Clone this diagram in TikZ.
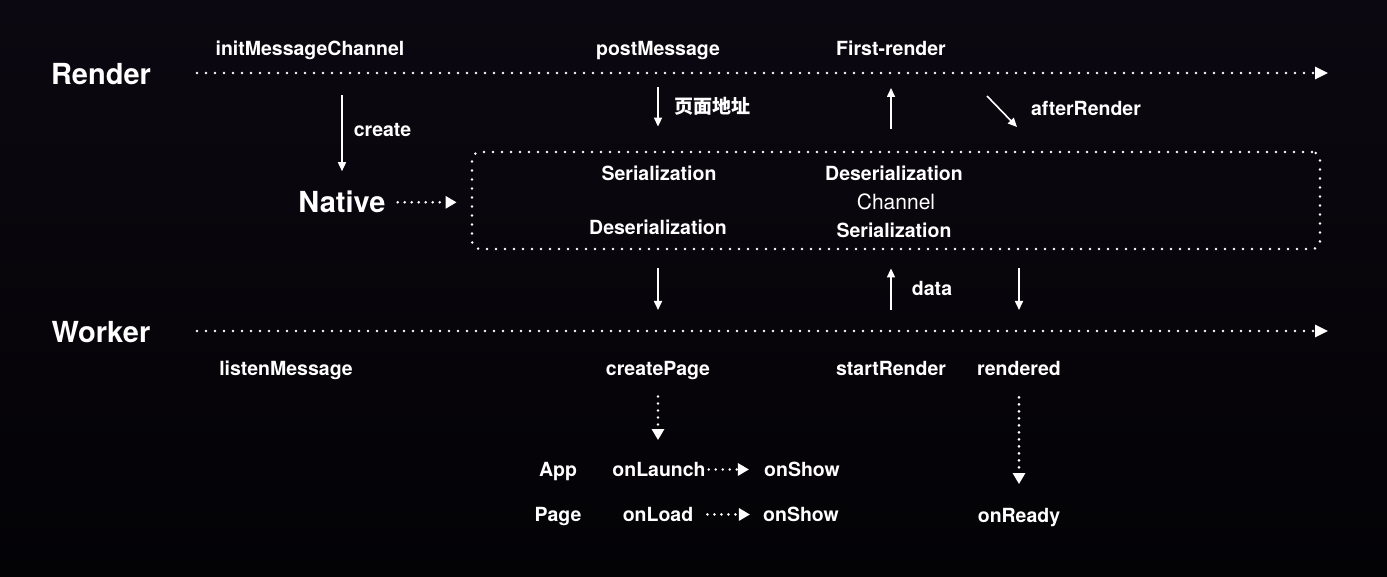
\documentclass[tikz,border=0pt]{standalone}
\usepackage{fontspec}
\setmainfont{TeX Gyre Heros}
\newfontfamily\cjk{Noto Sans CJK SC}
\usepackage{tikz}
\usetikzlibrary{calc,positioning,arrows.meta}
\definecolor{bgtop}{RGB}{12,8,17}
\definecolor{bgbot}{RGB}{3,2,5}

\begin{document}
\begin{tikzpicture}[x=1pt, y=-1pt,
	lane/.style={text=white, font=\fontsize{29}{34}\selectfont\bfseries, inner sep=0pt, anchor=base},
	lbl/.style={text=white, font=\fontsize{19.5}{23}\selectfont\bfseries, inner sep=0pt, anchor=base},
	dotpath/.style={draw=white, line width=2.8pt, line cap=round, dash pattern=on 0pt off 9pt},
	mainarrow/.style={dotpath, -{Triangle[length=13pt,width=12pt]}},
	dotarrow/.style={dotpath, dash pattern=on 0pt off 7pt, -{Triangle[length=11pt,width=12pt]}},
	flow/.style={draw=white, line width=1.6pt, -{Triangle[length=9pt,width=8pt]}}]

\fill[top color=bgtop, bottom color=bgbot] (0,0) rectangle (1387,577);
\useasboundingbox (0,0) rectangle (1387,577);

% lanes
\node[lane] (render) at (101,85)  {Render};
\node[lane] (worker) at (101,342) {Worker};
\node[lane] (native) at (342,213) {Native};

\coordinate (rstart) at (197,73);
\coordinate (rend)   at (1328,73);
\coordinate (wstart) at (197,331);
\coordinate (wend)   at (1328,331);
\draw[mainarrow] (rstart) -- (rend);
\draw[mainarrow] (wstart) -- (wend);

% render side
\node[lbl] (initmsg)     at (310,56) {initMessageChannel};
\node[lbl] (postmsg)     at (658,56) {postMessage};
\node[lbl] (firstrender) at (891,56) {First-render};

% channel box
\node[dotpath, rounded corners=8pt, minimum width=848pt, minimum height=97pt, inner sep=0pt] (chan) at (896,200.5) {};
\node[lbl] (serl) at (659,181) {Serialization};
\node[lbl] (desl) at (658,235) {Deserialization};
\node[lbl] (desr) at (894,181) {Deserialization};
\node[lbl, font=\fontsize{21}{25}\selectfont] (channel) at (896,210) {Channel};
\node[lbl] (serr) at (894,238) {Serialization};

% worker side
\node[lbl] (listenmsg)   at (286,375) {listenMessage};
\node[lbl] (createpage)  at (658,375) {createPage};
\node[lbl] (startrender) at (891,375) {startRender};
\node[lbl] (rendered)    at (1019,375) {rendered};

\node[lbl] (app)      at (558,476.5) {App};
\node[lbl] (onlaunch) at (659,476.5) {onLaunch};
\node[lbl] (appshow)  at (802,476.5) {onShow};
\node[lbl] (page)     at (558,521.5) {Page};
\node[lbl] (onload)   at (658,521.5) {onLoad};
\node[lbl] (pageshow) at (801,521.5) {onShow};
\node[lbl] (onready)  at (1019,522.5) {onReady};

% arrow labels
\node[lbl] (create) at (382.5,137) {create};
\node[text=white, font=\cjk\fontsize{19}{23}\selectfont\bfseries, inner sep=0pt] (addr) at (712.5,106) {页面地址};
\node[lbl] (afterrender) at (1086,116) {afterRender};
\node[lbl] (data) at (932,296) {data};

% messages
\draw[flow, shorten <=22pt, shorten >=20pt] (native |- rstart) -- (native.north);
\draw[flow, shorten <=14pt, shorten >=24pt] (postmsg |- rstart) -- (postmsg |- chan.north);
\draw[flow, shorten <=22pt, shorten >=15pt] (firstrender |- chan.north) -- (firstrender |- rstart);
\coordinate (ar1) at (987,96);
\coordinate (ar2) at (1017,127);
\draw[flow] (ar1) -- (ar2);
\draw[dotarrow, shorten <=12pt, shorten >=14pt] (native.east) -- (native.east -| chan.west);

\draw[flow, shorten <=18pt, shorten >=21pt] (createpage |- chan.south) -- (createpage |- wstart);
\draw[flow, shorten <=21pt, shorten >=18pt] (startrender |- wstart) -- (startrender |- chan.south);
\draw[flow, shorten <=18pt, shorten >=21pt] (rendered |- chan.south) -- (rendered |- wstart);

% lifecycle
\draw[dotarrow, shorten <=17pt, shorten >=22pt] (createpage.south) -- (createpage.south |- onlaunch.north);
\draw[dotarrow, shorten <=3pt, shorten >=15pt] (onlaunch.east) -- (onlaunch.east -| appshow.west);
\draw[dotarrow, shorten <=14pt, shorten >=13pt] (onload.east) -- (onload.east -| pageshow.west);
\draw[dotarrow, shorten <=22pt, shorten >=24pt] (rendered.south) -- (rendered.south |- onready.north);
\end{tikzpicture}
\end{document}
